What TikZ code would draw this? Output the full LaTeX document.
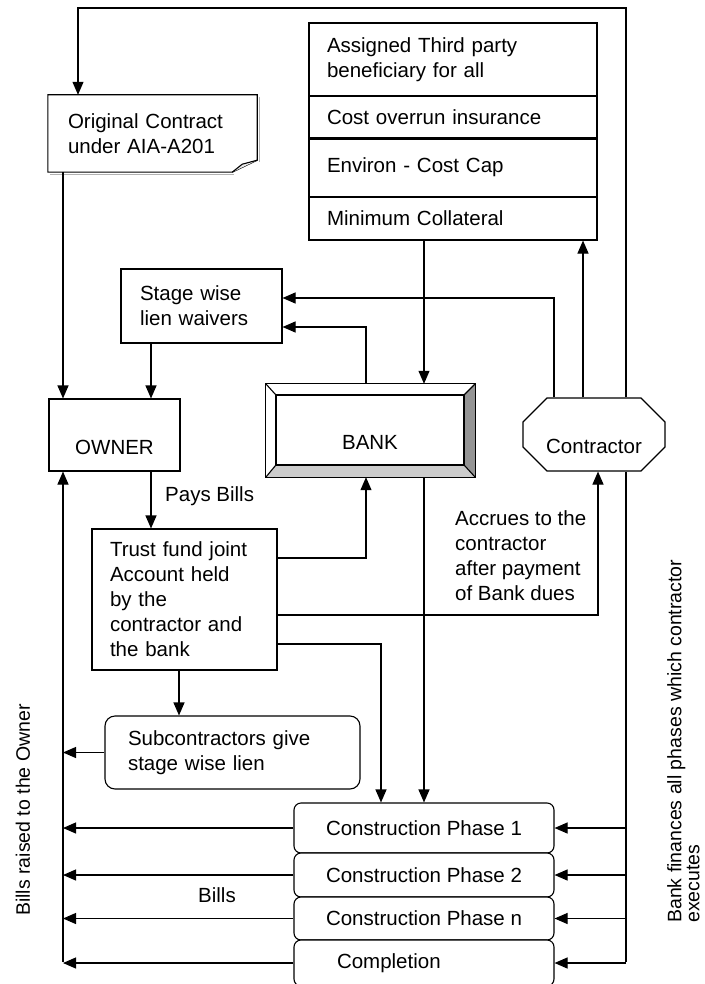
\documentclass[tikz,border=0pt]{standalone}
\usepackage{fontspec}
\setmainfont{Liberation Sans}
\usetikzlibrary{arrows.meta,calc,shapes.misc}

\begin{document}
\begin{tikzpicture}[x=1pt,y=-1pt,
  box/.style={draw, line width=1.1pt, fill=white, font=\fontsize{20.5}{25}\selectfont, inner ysep=2pt},
  cell/.style={box, minimum width=288pt, text width=252pt, inner xsep=18pt, align=left},
  phase/.style={box, rounded corners=7pt, minimum width=260pt, align=center},
  lowtext/.style={text height=44pt, text depth=5pt},
  note/.style={font=\fontsize{20.5}{25}\selectfont, align=left, inner sep=1pt},
  side/.style={font=\fontsize{19.5}{18}\selectfont, align=left, inner sep=0pt, rotate=90},
  wire/.style={line width=1.1pt},
  link/.style={line width=1.1pt, -{Triangle[length=13pt,width=11pt]}}]
\useasboundingbox (0,0) rectangle (704,984);

\node (assigned) [cell, minimum height=73pt] at (453,59.5) {Assigned Third party\\beneficiary for all};
\node (overrun) [cell, minimum height=42pt] at (453,117) {Cost overrun insurance};
\node (environ) [cell, minimum height=59pt] at (453,167.5) {Environ - Cost Cap};
\node (collateral) [cell, minimum height=43pt] at (453,218.5) {Minimum Collateral};
\draw [line width=2.4pt] (overrun.south west) -- (overrun.south east);

\node (contract) [note, text width=169pt, minimum width=209pt, minimum height=77pt, inner xsep=20pt] at (152.5,133.5) {Original Contract\\under AIA-A201};
\draw [gray!60, line width=1.1pt] ($(contract.north east)+(2,2)$) -- ($(contract.south east)+(2,-10)$)
  ($(contract.south east)+(-23,2)$) -- ($(contract.south west)+(2,2)$);
\draw [wire] (contract.north west) -- (contract.north east) -- ($(contract.south east)+(0,-12)$)
  -- ($(contract.south east)+(-25,0)$) -- (contract.south west) -- cycle;
\draw [wire, fill=gray!15] ($(contract.south east)+(0,-12)$) -- ($(contract.south east)+(-15,-8)$)
  -- ($(contract.south east)+(-25,0)$);

\node (waivers) [box, text width=123pt, inner xsep=19pt, minimum height=74pt, align=left] at (201.5,306) {Stage wise\\lien waivers};
\node (owner) [box, lowtext, minimum width=131pt, minimum height=72pt] at (114.5,435) {OWNER};

\node (bank) [minimum width=209pt, minimum height=93pt] at (370.5,430.5) {};
\node (bankin) [box, lowtext, minimum width=188pt, minimum height=70pt] at (370,430) {BANK};
\fill [black!42] (bank.north east) -- (bankin.north east) -- (bankin.south east) -- (bank.south east) -- cycle;
\fill [black!20] (bank.south west) -- (bankin.south west) -- (bankin.south east) -- (bank.south east) -- cycle;
\draw [wire] (bank.north west) rectangle (bank.south east);
\draw [wire] (bankin.north west) rectangle (bankin.south east);
\draw [wire] (bank.north west) -- (bankin.north west) (bank.south west) -- (bankin.south west)
  (bank.south east) -- (bankin.south east) (bank.north east) -- (bankin.north east);

\node (contractor) [box, chamfered rectangle, chamfered rectangle xsep=22pt, chamfered rectangle ysep=22pt,
  minimum width=142pt, minimum height=73pt] at (594,434.5) {\raisebox{-19pt}[0pt][0pt]{Contractor}};

\node (trust) [box, text width=149pt, inner xsep=18pt, minimum height=141pt, align=left] at (184.5,599.5)
  {Trust fund joint\\Account held\\by the\\contractor and\\the bank};
\node (sub) [box, rounded corners=10pt, text width=209pt, inner xsep=23pt, minimum height=73pt, align=left] at (232.5,752.5)
  {Subcontractors give\\stage wise lien};

\node (ph1) [phase, minimum height=50pt] at (424,828) {Construction Phase 1};
\node (ph2) [phase, minimum height=44pt] at (424,875) {Construction Phase 2};
\node (phn) [phase, minimum height=43pt] at (424,918.5) {Construction Phase n};
\node (done) [phase, minimum height=46pt, text width=174pt, inner xsep=43pt, align=left] at (424,963) {Completion};

\node (pays) [note, anchor=west] at (164,496) {Pays Bills};
\node (bills) [note] at (217,895) {Bills};
\node (accrues) [note, anchor=north west] at (454,509) {Accrues to the\\contractor\\after payment\\of Bank dues};
\node (raised) [side] at (23,810) {Bills raised to the Owner};
\node (finances) [side, anchor=north west] at (667,923) {Bank finances all phases which contractor\\executes};

\coordinate (railR) at (626,8);
\coordinate (railL) at (78,8);
\coordinate (busL) at (63,962);
\coordinate (payx) at (151,0);
\coordinate (bankx) at (424,0);
\coordinate (coverx) at (583,0);
\coordinate (subx) at (179,0);
\coordinate (lienx) at (366,327);
\coordinate (waivex) at (554,298);
\coordinate (fundy) at (0,558);
\coordinate (accruey) at (598,615);
\coordinate (phasey) at (381,644);

\draw [link] (contractor.north -| railR) -- (railR) -- (railL) -- (contract.north -| railL);
\draw [link] (contract.south -| busL) -- (owner.north -| busL);
\draw [link] (waivers.south -| payx) -- (owner.north -| payx);
\draw [link] (owner.south -| payx) -- (trust.north -| payx);
\draw [link] (collateral.south -| bankx) -- (bank.north -| bankx);
\draw [link] (bank.north -| lienx) |- (waivers.east |- lienx);
\draw [link] (contractor.north -| waivex) |- (waivers.east |- waivex);
\draw [link] (contractor.north -| coverx) -- (collateral.south -| coverx);
\draw [link] (trust.east |- fundy) -| (bank.south -| lienx);
\draw [link] (trust.east |- accruey) -| (contractor.south -| accruey);
\draw [link] (trust.east |- phasey) -| (ph1.north -| phasey);
\draw [link] (bank.south -| bankx) -- (ph1.north -| bankx);
\draw [link] (trust.south -| subx) -- (sub.north -| subx);
\draw [link] (sub.west) -- (sub.west -| busL);
\draw [link] (busL) -- (owner.south -| busL);
\draw [wire] (contractor.south -| railR) -- (railR |- busL);
\foreach \p in {ph1,ph2,phn,done} {
  \draw [link] (\p.west) -- (\p.west -| busL);
  \draw [link] (\p.east -| railR) -- (\p.east);
}
\end{tikzpicture}
\end{document}
